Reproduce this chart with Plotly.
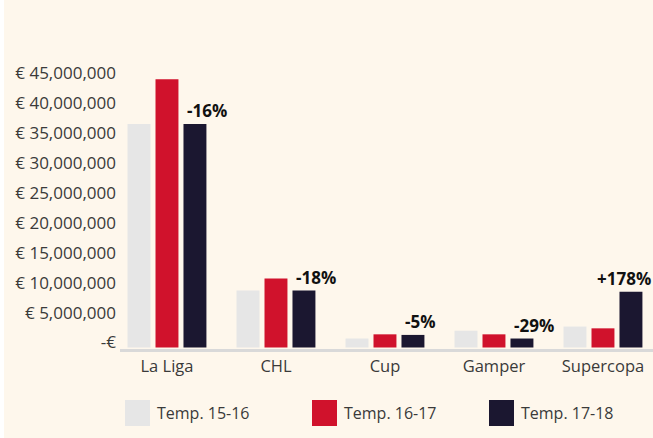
import plotly.graph_objects as go

categories = ["La Liga", "CHL", "Cup", "Gamper", "Supercopa"]
season_names = ["Temp. 15-16", "Temp. 16-17", "Temp. 17-18"]
temp_15_16 = [37.3e6, 9.5e6, 1.5e6, 2.8e6, 3.5e6]
temp_16_17 = [44.8e6, 11.5e6, 2.2e6, 2.2e6, 3.2e6]
temp_17_18 = [37.3e6, 9.5e6, 2.1e6, 1.5e6, 9.3e6]
change_labels = ["-16%", "-18%", "-5%", "-29%", "+178%"]
tick_values = [0, 5e6, 10e6, 15e6, 20e6, 25e6, 30e6, 35e6, 40e6, 45e6]
tick_labels = ["-€", "€ 5,000,000", "€ 10,000,000", "€ 15,000,000", "€ 20,000,000",
               "€ 25,000,000", "€ 30,000,000", "€ 35,000,000", "€ 40,000,000", "€ 45,000,000"]

colors = ["#E6E6E6", "#D0122C", "#1B1730"]
BG = "#FEF7EC"
FONT = "Open Sans"
TXT = "#3a3a3a"

fig = go.Figure()
for name, vals, col in zip(season_names, [temp_15_16, temp_16_17, temp_17_18], colors):
    fig.add_trace(go.Bar(x=categories, y=vals, name=name, marker=dict(color=col, line=dict(width=0)),
                         showlegend=False))

# percentage labels above the 17-18 bars
label_shift = [0, 0, 0, 0, -26]
for i, (cat, v, t) in enumerate(zip(categories, temp_17_18, change_labels)):
    fig.add_annotation(x=i + 0.165, y=v, xref="x", yref="y", text=t, showarrow=False,
                       xanchor="left", yanchor="bottom", yshift=0, xshift=label_shift[i],
                       font=dict(family=FONT, size=17, color="#111111", weight="bold"))

L, R, T, B = 120, 0, 60, 89
W, H = 653, 438
pw, ph = W - L - R, H - T - B

def px(x):
    return (x - L) / pw

def py(y):
    return (H - B - y) / ph

shapes = [dict(type="rect", xref="paper", yref="paper", x0=px(4), x1=px(W + 5), y0=py(H + 5), y1=py(-5),
               fillcolor=BG, line=dict(width=0), layer="below")]
legend_x = [125, 312, 489]
for lx, col, name in zip(legend_x, colors, season_names):
    shapes.append(dict(type="rect", xref="paper", yref="paper", x0=px(lx), x1=px(lx + 25),
                       y0=py(426), y1=py(400), fillcolor=col, line=dict(width=0)))
    fig.add_annotation(x=px(lx + 30), y=py(413), xref="paper", yref="paper", text=name,
                       showarrow=False, xanchor="left", yanchor="middle",
                       font=dict(family=FONT, size=16, color=TXT))

fig.update_layout(
    width=W, height=H,
    margin=dict(l=L, r=R, t=T, b=B, pad=0),
    paper_bgcolor="white", plot_bgcolor="rgba(0,0,0,0)",
    barmode="group", bargap=0.23, bargroupgap=0.18,
    font=dict(family=FONT, size=16, color=TXT),
    shapes=shapes,
    showlegend=False,
)
fig.update_xaxes(range=[-0.431, 4.459], showgrid=False, showline=True, linewidth=3, linecolor="#D9D9D9",
                 ticks="", tickfont=dict(size=16.5, color=TXT), zeroline=False, fixedrange=True)
fig.update_yaxes(range=[-0.25e6, 48e6], tickvals=tick_values, ticktext=tick_labels, showgrid=False,
                 zeroline=False, showline=False, ticks="", tickfont=dict(size=17, color=TXT),
                 ticklabelshift=-5, ticklabelstandoff=3, fixedrange=True)

fig.write_html("out.html", config={"displayModeBar": False},
               post_script="document.body.style.margin='0';document.body.style.overflow='hidden';")
